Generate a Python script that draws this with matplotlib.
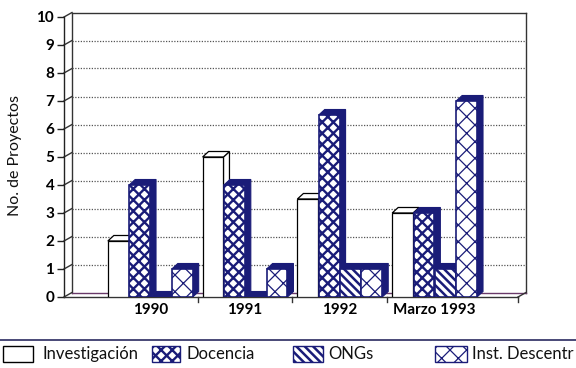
import matplotlib
matplotlib.use("Agg")
import matplotlib.pyplot as plt
from matplotlib.patches import Polygon, Rectangle
from matplotlib.lines import Line2D

plt.rcParams['font.family'] = ['Lato', 'DejaVu Sans']
plt.rcParams['hatch.linewidth'] = 1.6

# Data
categories = ["1990", "1991", "1992", "Marzo 1993"]
series_names = ["Investigación", "Docencia", "ONGs", "Inst. Descentr"]
investigacion = [2, 5, 3.5, 3]
docencia = [4, 4, 6.5, 3]
ongs = [0, 0, 1, 1]
inst_descentr = [1, 1, 1, 7]
y_ticks = list(range(0, 11))

NAVY = "#1a1c78"
GRID = "#555555"

series = [investigacion, docencia, ongs, inst_descentr]
hatches = [None, "xxx", "\\\\\\\\", "xx"]
hatch_lw = [1.6, 1.7, 1.8, 0.9]


def thin_hatch(patch, lw):
    if hasattr(patch, "set_hatch_linewidth"):
        patch.set_hatch_linewidth(lw)


W, H, DPI = 5.76, 3.68, 100
fig = plt.figure(figsize=(W, H), dpi=DPI)
fig.patch.set_facecolor("white")

# front plane of the 3-D axes box (pixel placement inside the figure)
left_px, right_px, bottom_px, top_px = 64, 518, 297, 17
ax = fig.add_axes([left_px / 576, 1 - bottom_px / 368,
                   (right_px - left_px) / 576, (bottom_px - top_px) / 368])
xmin, xmax = -0.91, 3.88
ax.set_xlim(xmin, xmax)
ax.set_ylim(0, 10)
ax.patch.set_alpha(0)

xu = (right_px - left_px) / (xmax - xmin)   # px per category unit
yu = (bottom_px - top_px) / 10.0           # px per value unit

# depth offsets (wall and bars) in data units
wdx, wdy = 8 / xu, 4.5 / yu
bdx, bdy = 6 / xu, 5.5 / yu

for s in ["top", "right"]:
    ax.spines[s].set_visible(False)
ax.spines["left"].set_color("#222222")
ax.spines["bottom"].set_color("#333333")
ax.spines["left"].set_linewidth(1.0)
ax.spines["bottom"].set_linewidth(1.0)

# back wall and floor
kw = dict(color="#333333", lw=1.0, clip_on=False, zorder=1)
ax.plot([xmin + wdx, xmin + wdx], [wdy, 10 + wdy], **kw)
ax.plot([xmin + wdx, xmax + wdx], [10 + wdy, 10 + wdy], **kw)
ax.plot([xmax + wdx, xmax + wdx], [wdy, 10 + wdy], **kw)
ax.plot([xmin + wdx, xmax + wdx], [wdy, wdy], color="#6a3a6a", lw=1.0, clip_on=False, zorder=1)
ax.plot([xmax, xmax + wdx], [0, wdy], **kw)
for v in y_ticks:
    ax.plot([xmin, xmin + wdx], [v, v + wdy], **kw)
    if 0 < v < 10:
        ax.plot([xmin + wdx, xmax + wdx], [v + wdy, v + wdy], color=GRID,
                lw=0.9, ls=(0, (1, 1.2)), clip_on=False, zorder=1)

# 3-D bars
width = 0.22
offsets = [-0.3375, -0.1125, 0.1125, 0.3375]
for k, vals in enumerate(series):
    z = 3 + k
    for i, h in enumerate(vals):
        x0 = i + offsets[k] - width / 2
        x1 = x0 + width
        if k == 0:
            face, edge, lw = "white", "black", 0.9
        else:
            face, edge, lw = NAVY, NAVY, 0.8
        top = Polygon([(x0, h), (x1, h), (x1 + bdx, h + bdy), (x0 + bdx, h + bdy)],
                      closed=True, facecolor=face, edgecolor=edge, lw=lw, zorder=z)
        side = Polygon([(x1, 0), (x1 + bdx, bdy), (x1 + bdx, h + bdy), (x1, h)],
                       closed=True, facecolor=face, edgecolor=edge, lw=lw, zorder=z)
        ax.add_patch(side)
        ax.add_patch(top)
    xs = [i + offsets[k] for i in range(len(vals))]
    if k == 0:
        ax.bar(xs, vals, width=width, facecolor="white", edgecolor="black",
               lw=0.9, zorder=z + 0.5)
    else:
        plt.rcParams['hatch.linewidth'] = hatch_lw[k]
        bars = ax.bar(xs, vals, width=width, facecolor="white", edgecolor=NAVY,
                      hatch=hatches[k], lw=1.2, zorder=z + 0.5)
        for b in bars:
            thin_hatch(b, hatch_lw[k])
plt.rcParams['hatch.linewidth'] = 1.6

# axes ticks and labels
ax.set_yticks(y_ticks)
ax.set_yticklabels([str(v) for v in y_ticks], fontsize=11, fontweight="bold")
ax.tick_params(axis="y", length=5, width=1.0, pad=2, color="#222222")
ax.set_xticks([0, 1, 2, 3])
ax.set_xticklabels(categories, fontsize=11, fontweight="bold")
ax.tick_params(axis="x", length=0, pad=4)
for xb in [0.5, 1.5, 2.5, xmax]:
    ax.plot([xb, xb], [0, -0.18], color="#333333", lw=1.0, clip_on=False)

fig.text(15 / 576, 1 - 156 / 368, "No. de Proyectos", rotation=90,
         ha="center", va="center", fontsize=11.5, color="#111111")

# legend strip
fig.add_artist(Line2D([0, 1], [1 - 340 / 368] * 2, transform=fig.transFigure,
                      color="#2a2a60", lw=1.2))
key_y0, key_y1 = 346, 362
keys = [(3, 33, 42), (152, 180, 187), (293, 323, 328), (435, 467, 472)]
for k, (xa, xb, xt) in enumerate(keys):
    plt.rcParams['hatch.linewidth'] = hatch_lw[k]
    rect = Rectangle((xa / 576, 1 - key_y1 / 368), (xb - xa) / 576,
                     (key_y1 - key_y0) / 368, transform=fig.transFigure,
                     facecolor="white",
                     edgecolor="black" if k == 0 else NAVY,
                     hatch=hatches[k], lw=1.0)
    thin_hatch(rect, hatch_lw[k])
    fig.add_artist(rect)
    fig.text(xt / 576, 1 - (key_y0 + key_y1) / 2 / 368, series_names[k],
             ha="left", va="center", fontsize=12, color="#111111")

fig.savefig("out.png", dpi=DPI)
